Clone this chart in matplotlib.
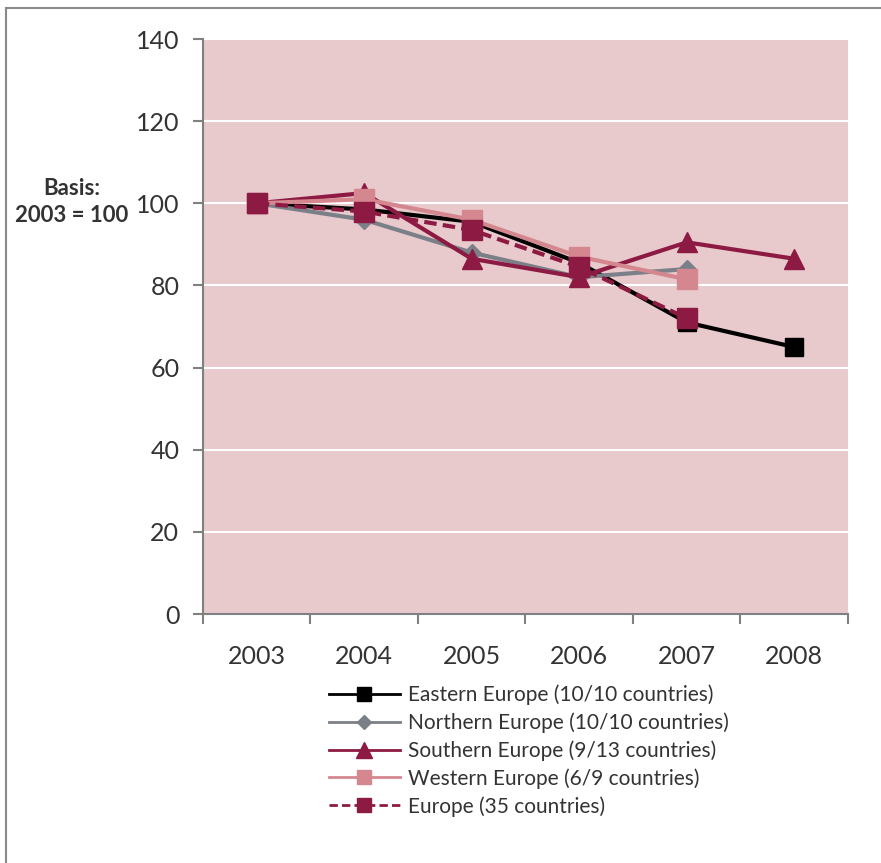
import matplotlib.pyplot as plt
from matplotlib.patches import Rectangle

years = ["2003", "2004", "2005", "2006", "2007", "2008"]

eastern = [100, 98.5, 95.5, 85.5, 71, 65]
northern = [100, 96, 88, 82, 84]
southern = [100, 102.5, 86.5, 82, 90.5, 86.5]
western = [100, 101, 96, 87, 81.5]
europe = [100, 98, 93.5, 84.5, 72]

labels = ["Eastern Europe (10/10 countries)",
          "Northern Europe (10/10 countries)",
          "Southern Europe (9/13 countries)",
          "Western Europe (6/9 countries)",
          "Europe (35 countries)"]

plt.rcParams['font.family'] = ['Lato', 'DejaVu Sans']

fig = plt.figure(figsize=(8.81, 8.63), dpi=100)
ax = fig.add_axes([0.2304, 0.2885, 0.7321, 0.6663])
ax.set_facecolor("#E8C9CC")

maroon = "#8C1A43"
x = list(range(len(years)))
ax.plot(x[:len(eastern)], eastern, color="black", lw=3, marker="s", ms=13, label=labels[0])
ax.plot(x[:len(northern)], northern, color="#7B8088", lw=3, marker="D", ms=9, label=labels[1])
ax.plot(x[:len(southern)], southern, color=maroon, lw=3, marker="^", ms=15, label=labels[2])
ax.plot(x[:len(western)], western, color="#D4878E", lw=3, marker="s", ms=14, label=labels[3])
ax.plot(x[:len(europe)], europe, color=maroon, lw=3, ls=(0, (3, 1.5)), marker="s", ms=14, label=labels[4])

ax.set_xlim(-0.5, 5.5)
ax.set_ylim(0, 140)
ax.set_yticks(range(0, 141, 20))
ax.set_xticks(x)
ax.set_xticklabels(years)
ax.set_xticks([i - 0.5 for i in range(len(years) + 1)], minor=True)
ax.tick_params(axis="x", which="major", length=0, pad=22, labelsize=18, labelcolor="#333333")
ax.tick_params(axis="x", which="minor", length=7, width=1.5, color="#808080", direction="out")
ax.tick_params(axis="y", length=7, width=1.5, color="#808080", labelsize=18, labelcolor="#333333", pad=10)
ax.grid(axis="y", color="white", lw=1.5)
ax.set_axisbelow(True)
for s in ["top", "right"]:
    ax.spines[s].set_visible(False)
for s in ["left", "bottom"]:
    ax.spines[s].set_color("#808080")
    ax.spines[s].set_linewidth(1.5)

fig.text(0.081, 0.766, "Basis:\n2003 = 100", ha="center", va="center",
         fontsize=16, fontweight="bold", color="#333333", linespacing=1.35)

leg = ax.legend(loc="upper left", bbox_to_anchor=(0.166, -0.09), frameon=False,
                fontsize=15, handlelength=3.4, handletextpad=0.4, labelspacing=0.35,
                labelcolor="#333333", markerscale=0.75)
for line in leg.get_lines():
    line.set_linewidth(2)

fig.patches.append(Rectangle((6 / 881, -0.1), 2, 1.1 - 8 / 863, transform=fig.transFigure,
                             fill=False, edgecolor="#8A8A8A", lw=1.5))

fig.savefig("out.png", dpi=100)
